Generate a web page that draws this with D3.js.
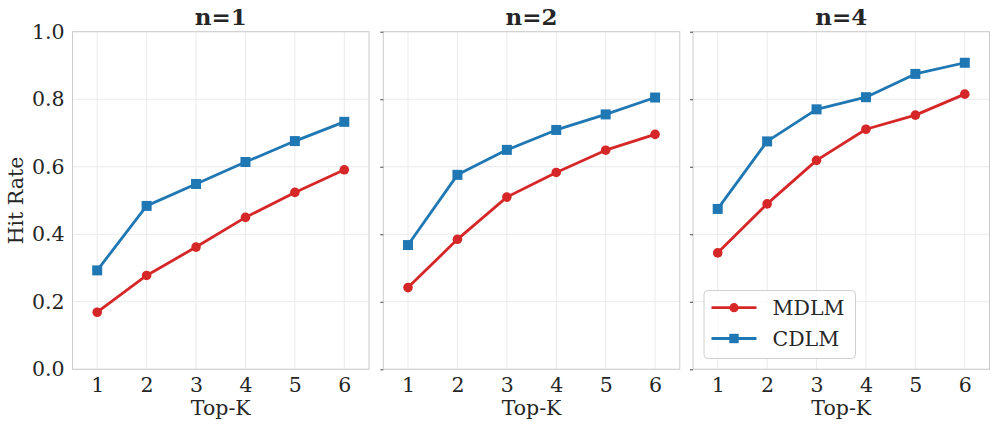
<!DOCTYPE html>
<html><head><meta charset="utf-8">
<script src="https://cdn.jsdelivr.net/npm/d3@7"></script>
<style>body{margin:0;background:#fff}svg{display:block}text{font-family:"DejaVu Serif",serif;fill:#262626}</style>
</head><body><svg id="c" width="997" height="429"></svg>
<script>
const topK = [1, 2, 3, 4, 5, 6];
const panels = ["n=1", "n=2", "n=4"];
const mdlm = [
  [0.169, 0.278, 0.362, 0.450, 0.524, 0.591],
  [0.242, 0.385, 0.510, 0.583, 0.649, 0.696],
  [0.345, 0.490, 0.619, 0.711, 0.753, 0.815]
];
const cdlm = [
  [0.293, 0.484, 0.549, 0.614, 0.676, 0.733],
  [0.368, 0.576, 0.650, 0.709, 0.755, 0.805],
  [0.475, 0.675, 0.770, 0.806, 0.875, 0.908]
];
const yTicks = [0.0, 0.2, 0.4, 0.6, 0.8, 1.0];
const seriesNames = ["MDLM", "CDLM"];
const colors = ["#d62728", "#1f77b4"];

const svg = d3.select("#c");
const lefts = [72.5, 383.3, 693];
const pw = 296.5, plotTop = 31.7, plotBottom = 369.3;
const fs = "20.5px";
const y = d3.scaleLinear().domain([0, 1]).range([plotBottom, plotTop]);

panels.forEach((title, i) => {
  const x = d3.scaleLinear().domain([0.5, 6.5]).range([lefts[i], lefts[i] + pw]);
  const g = svg.append("g");
  g.selectAll(".gy").data(yTicks).enter().append("line")
    .attr("x1", lefts[i]).attr("x2", lefts[i] + pw)
    .attr("y1", d => y(d)).attr("y2", d => y(d))
    .attr("stroke", "#ebebeb").attr("stroke-width", 1);
  g.selectAll(".gx").data(topK).enter().append("line")
    .attr("x1", d => x(d)).attr("x2", d => x(d))
    .attr("y1", plotTop).attr("y2", plotBottom)
    .attr("stroke", "#ebebeb").attr("stroke-width", 1);
  g.append("rect").attr("x", lefts[i]).attr("y", plotTop).attr("width", pw).attr("height", plotBottom - plotTop)
    .attr("fill", "none").attr("stroke", "#cccccc").attr("stroke-width", 1);
  const ya = d3.axisLeft(y).tickValues(yTicks).tickSize(i === 0 ? 0 : 3).tickPadding(8)
    .tickFormat(i === 0 ? d3.format(".1f") : () => "");
  const yg = g.append("g").attr("transform", `translate(${lefts[i]},0)`).call(ya);
  yg.select(".domain").remove();
  yg.selectAll(".tick line").attr("stroke", "#444").attr("stroke-width", 1);
  yg.selectAll("text").style("font-size", fs).style("font-family", "DejaVu Serif").attr("fill", "#262626");
  const xa = d3.axisBottom(x).tickValues(topK).tickSize(0).tickPadding(8.5).tickFormat(d3.format("d"));
  const xg = g.append("g").attr("transform", `translate(0,${plotBottom})`).call(xa);
  xg.select(".domain").remove();
  xg.selectAll("text").style("font-size", fs).style("font-family", "DejaVu Serif").attr("fill", "#262626");
  g.append("text").attr("x", lefts[i] + pw / 2).attr("y", 414.5).attr("text-anchor", "middle")
    .style("font-size", fs).text("Top-K");
  g.append("text").attr("x", lefts[i] + pw / 2).attr("y", 25).attr("text-anchor", "middle")
    .style("font-size", "23px").style("font-weight", "bold").text(title);
  [mdlm[i], cdlm[i]].forEach((vals, s) => {
    const line = d3.line().x((d, j) => x(topK[j])).y(d => y(d));
    g.append("path").datum(vals).attr("d", line).attr("fill", "none")
      .attr("stroke", colors[s]).attr("stroke-width", 2.8).attr("stroke-linejoin", "round");
    if (s === 0) {
      g.selectAll(".m" + s).data(vals).enter().append("circle")
        .attr("cx", (d, j) => x(topK[j])).attr("cy", d => y(d)).attr("r", 4.8).attr("fill", colors[s]);
    } else {
      g.selectAll(".m" + s).data(vals).enter().append("rect")
        .attr("x", (d, j) => x(topK[j]) - 5).attr("y", d => y(d) - 5)
        .attr("width", 10).attr("height", 10).attr("fill", colors[s]);
    }
  });
});

svg.append("text").attr("transform", `translate(23,${(plotTop + plotBottom) / 2}) rotate(-90)`)
  .attr("text-anchor", "middle").style("font-size", fs).text("Hit Rate");

const lg = svg.append("g");
lg.append("rect").attr("x", 704).attr("y", 290.5).attr("width", 151.5).attr("height", 68)
  .attr("rx", 4).attr("fill", "#fff").attr("fill-opacity", 0.8).attr("stroke", "#d0d0d0").attr("stroke-width", 1);
seriesNames.forEach((name, s) => {
  const cy = 307.7 + s * 30.8;
  lg.append("line").attr("x1", 711.5).attr("x2", 756.5).attr("y1", cy).attr("y2", cy)
    .attr("stroke", colors[s]).attr("stroke-width", 2.8);
  if (s === 0) lg.append("circle").attr("cx", 734).attr("cy", cy).attr("r", 4.6).attr("fill", colors[s]);
  else lg.append("rect").attr("x", 729.3).attr("y", cy - 4.7).attr("width", 9.4).attr("height", 9.4).attr("fill", colors[s]);
  lg.append("text").attr("x", 772.5).attr("y", cy + 7.3).style("font-size", fs).text(name);
});
</script></body></html>
